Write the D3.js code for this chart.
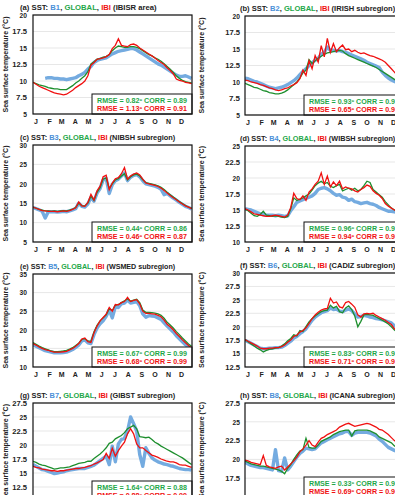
<!DOCTYPE html>
<html>
<head>
<meta charset="utf-8">
<script src="https://cdn.jsdelivr.net/npm/d3@7"></script>
<style>
  body { margin: 0; background: #fff; }
  svg { display: block; overflow: hidden; }
  text { font-family: "Liberation Sans", Arial, sans-serif; font-weight: bold; }
</style>
</head>
<body>
<div id="chart"></div>
<script>
// weekly samples, day of year 0..364
const sampleDays = d3.range(0, 365, 7);
const monthLabels = ["J", "F", "M", "A", "M", "J", "J", "A", "S", "O", "N", "D"];
const monthStarts = [0, 31, 59, 90, 120, 151, 181, 212, 243, 273, 304, 334];

// (a) IBISR area
const obsA = [null, null, null, null, 10.4, 10.5, 10.5, 10.4, 10.4, 10.3, 10.3, 10.2, 10.3, 10.4, 10.5, 10.8, 11.0, 11.3, 11.8, 12.2, 12.8, 13.1, 13.3, 13.4, 13.5, 13.8, 14.1, 14.3, 14.5, 14.6, 14.7, 14.8, 14.9, 14.9, 14.7, 14.4, 14.1, 13.8, 13.5, 13.2, 12.9, 12.6, 12.4, 12.1, 11.8, 11.5, 11.2, 10.9, 10.7, 10.7, 10.8, 10.6, 10.4];
const globA = [9.8, 9.6, 9.4, 9.3, 9.2, 9.0, 8.9, 8.8, 8.8, 8.7, 8.7, 8.7, 9.0, 9.3, 9.7, 10.0, 10.4, 10.8, 11.4, 12.6, 12.9, 13.3, 13.4, 13.6, 13.7, 14.0, 14.6, 15.0, 15.3, 15.2, 15.1, 15.1, 15.2, 15.2, 15.1, 14.9, 14.6, 14.3, 14.0, 13.8, 13.5, 13.3, 13.0, 12.6, 12.2, 11.8, 11.3, 10.8, 10.4, 10.1, 9.9, 9.8, 9.7];
const ibiA = [9.8, 9.5, 9.2, 9.0, 8.8, 8.6, 8.4, 8.2, 8.1, 8.0, 7.9, 8.0, 8.3, 8.6, 9.0, 9.3, 9.6, 10.0, 10.8, 12.4, 12.8, 13.3, 13.4, 13.5, 13.7, 14.0, 14.9, 15.4, 16.4, 15.4, 15.3, 15.2, 15.5, 15.6, 15.4, 15.0, 14.7, 14.4, 14.1, 13.8, 13.5, 13.1, 12.8, 12.5, 12.0, 11.6, 11.1, 10.3, 10.1, 10.0, 9.8, 9.7, 9.6];

// (b) IRISH subregion
const obsB = [10.6, 10.5, 10.3, 10.1, 10.0, 9.8, 9.6, 9.4, 9.2, 9.1, 9.0, 9.1, 9.2, 9.4, 9.6, 9.9, 10.2, 10.6, 11.1, 11.6, 12.0, 12.5, 12.9, 13.3, 13.6, 14.2, 14.5, 15.3, 14.8, 14.8, 14.7, 14.8, 14.6, 14.5, 14.3, 14.1, 13.9, 13.7, 13.5, 13.3, 13.0, 12.8, 12.6, 12.4, 12.2, 11.5, 11.0, 10.6, 10.3, 10.1, 9.9, 9.8, 9.6];
const globB = [9.8, 9.6, 9.4, 9.2, 9.1, 8.9, 8.7, 8.6, 8.4, 8.3, 8.2, 8.2, 8.3, 8.5, 8.8, 9.2, 9.6, 10.0, 10.6, 11.4, 11.8, 13.4, 12.8, 13.2, 13.6, 13.9, 14.2, 14.4, 14.5, 14.6, 14.7, 14.8, 14.7, 14.3, 14.0, 13.8, 13.6, 13.4, 13.2, 13.0, 12.8, 12.6, 12.4, 12.2, 11.9, 11.6, 11.3, 11.0, 10.7, 10.4, 10.1, 9.9, 9.7];
const ibiB = [10.3, 10.2, 10.0, 9.9, 9.8, 9.6, 9.5, 9.3, 9.1, 9.0, 8.8, 8.7, 8.8, 9.0, 9.1, 9.4, 9.6, 9.9, 10.5, 11.8, 11.0, 13.2, 12.0, 14.0, 13.0, 15.5, 13.8, 16.6, 14.5, 15.8, 14.6, 15.2, 15.6, 14.9, 15.0, 14.6, 14.8, 14.5, 14.3, 14.4, 14.2, 14.0, 13.9, 13.7, 13.5, 13.3, 13.0, 12.5, 12.0, 11.5, 11.0, 10.6, 10.3];

// (c) NIBSH subregion
const obsC = [13.9, 13.6, 13.3, 12.9, 11.2, 12.8, 12.8, 12.8, 12.7, 12.8, 12.9, 12.8, 13.0, 13.3, 13.6, 15.0, 14.2, 14.0, 14.8, 16.5, 15.5, 17.6, 18.8, 21.0, 21.4, 17.5, 19.8, 20.8, 21.2, 22.0, 22.8, 20.8, 21.7, 22.2, 22.4, 21.8, 20.8, 20.0, 19.8, 19.6, 19.4, 19.1, 18.6, 17.2, 17.5, 16.9, 16.3, 15.8, 15.2, 14.7, 14.2, 13.9, 13.5];
const globC = [14.0, 13.7, 13.4, 13.2, 13.0, 13.0, 12.9, 13.0, 12.9, 13.0, 13.1, 13.0, 13.2, 13.5, 13.9, 15.0, 14.4, 14.3, 15.0, 16.8, 15.7, 17.8, 19.0, 21.2, 21.5, 18.8, 20.0, 21.0, 21.3, 22.0, 22.6, 21.0, 21.8, 22.3, 22.5, 22.0, 21.0, 20.3, 20.1, 19.9, 19.7, 19.5, 19.1, 18.5, 17.8, 17.2, 16.6, 16.0, 15.4, 14.9, 14.4, 14.0, 13.7];
const ibiC = [14.0, 13.7, 13.4, 13.1, 13.0, 12.9, 12.9, 12.9, 12.8, 12.9, 13.0, 12.9, 13.1, 13.4, 13.8, 15.3, 14.3, 14.2, 15.2, 17.3, 15.8, 18.2, 19.4, 21.8, 22.2, 18.5, 20.2, 21.3, 21.6, 22.6, 24.2, 21.2, 22.0, 22.5, 22.8, 22.3, 21.2, 20.2, 20.0, 19.8, 19.6, 19.3, 18.9, 18.3, 17.6, 17.0, 16.4, 15.9, 15.3, 14.8, 14.3, 14.0, 13.6];

// (d) WIBSH subregion
const obsD = [15.2, 15.1, 15.0, 14.8, 14.6, 14.4, 14.3, 14.2, 14.2, 14.2, 14.1, 14.2, 14.1, 14.0, 14.1, 14.9, 15.5, 16.2, 16.4, 16.6, 16.8, 17.0, 17.2, 17.6, 18.2, 18.4, 18.5, 18.3, 18.0, 17.6, 17.3, 17.4, 17.0, 16.9, 16.5, 16.7, 16.3, 16.2, 16.0, 16.1, 16.2, 16.0, 15.9, 15.7, 15.4, 15.2, 15.0, 14.8, 14.8, 14.7, 14.6, 14.5, 14.4];
const globD = [15.1, 14.9, 14.5, 14.1, 14.0, 14.3, 14.8, 14.2, 14.1, 14.0, 14.1, 14.0, 13.9, 13.8, 14.0, 15.2, 16.9, 16.5, 16.7, 16.9, 17.2, 17.5, 18.1, 18.8, 19.2, 19.5, 19.1, 19.3, 18.7, 18.5, 18.8, 19.0, 18.0, 18.2, 18.4, 18.1, 18.4, 18.0, 18.2, 18.8, 19.5, 19.3, 18.2, 17.8, 17.4, 17.0, 16.3, 15.8, 15.3, 15.0, 14.8, 14.6, 14.4];
const ibiD = [15.2, 15.0, 14.7, 14.4, 14.3, 14.2, 14.1, 14.0, 14.0, 14.1, 14.2, 14.1, 14.0, 13.9, 14.2, 15.4, 17.6, 16.8, 16.6, 17.2, 16.5, 17.8, 18.3, 19.0, 19.5, 20.8, 19.0, 20.3, 18.6, 19.4, 18.8, 19.5, 18.3, 18.6, 18.4, 18.3, 18.0, 17.8, 18.2, 18.5, 18.9, 18.7, 18.0, 17.6, 17.3, 16.8, 16.0, 15.6, 15.3, 15.0, 14.8, 14.6, 14.4];

// (e) WSMED subregion
const obsE = [15.9, 15.6, 15.2, 14.8, 14.4, 14.2, 14.0, 13.8, 13.8, 13.8, 13.9, 14.0, 14.3, 14.7, 15.3, 15.9, 17.0, 17.3, 16.5, 16.3, 18.7, 20.5, 21.6, 22.4, 23.6, 25.4, 23.2, 26.2, 26.0, 27.0, 27.2, 28.0, 27.2, 27.4, 27.6, 26.5, 24.3, 23.4, 23.8, 23.7, 23.6, 23.2, 22.8, 21.9, 21.0, 20.2, 19.4, 18.4, 17.6, 16.8, 16.0, 15.4, 14.9];
const globE = [16.6, 16.1, 15.6, 15.2, 14.9, 14.6, 14.3, 14.1, 14.1, 14.2, 14.3, 14.5, 14.8, 15.2, 15.8, 16.4, 17.4, 17.6, 17.0, 16.9, 19.4, 21.2, 22.4, 23.2, 24.0, 25.6, 25.2, 26.6, 26.8, 27.3, 27.8, 28.3, 27.7, 28.0, 28.2, 27.3, 25.3, 24.7, 24.7, 24.6, 24.5, 24.3, 23.9, 23.1, 22.0, 21.3, 20.5, 19.5, 18.7, 17.8, 17.0, 16.2, 15.6];
const ibiE = [16.3, 15.9, 15.4, 15.0, 14.7, 14.5, 14.2, 14.0, 14.0, 14.0, 14.1, 14.2, 14.6, 15.0, 15.6, 16.3, 17.5, 17.8, 16.8, 16.6, 19.2, 21.0, 22.4, 23.3, 24.2, 26.0, 25.0, 26.8, 26.7, 27.3, 27.6, 28.7, 27.6, 27.9, 28.1, 27.0, 25.0, 24.4, 24.4, 24.3, 24.2, 23.9, 23.5, 22.6, 21.5, 20.8, 20.0, 19.0, 18.2, 17.3, 16.5, 15.8, 15.2];

// (f) CADIZ subregion
const obsF = [17.5, 17.2, 16.9, 16.6, 16.3, 16.0, 15.9, 15.9, 16.0, 16.0, 16.1, 16.1, 16.2, 16.5, 16.9, 17.3, 17.9, 18.2, 18.7, 19.1, 19.6, 20.4, 21.2, 21.8, 22.2, 22.6, 22.8, 23.0, 23.5, 23.2, 23.3, 22.9, 22.8, 23.1, 23.3, 23.0, 22.4, 21.8, 21.9, 22.1, 22.0, 21.8, 21.7, 21.5, 21.4, 21.3, 21.1, 20.9, 20.7, 20.2, 19.8, 19.4, 19.0];
const globF = [17.6, 17.2, 16.8, 16.4, 16.0, 15.7, 15.3, 15.6, 15.8, 15.9, 16.0, 16.1, 16.4, 16.8, 17.4, 17.8, 18.5, 18.3, 19.3, 19.1, 20.0, 20.9, 21.5, 22.0, 22.4, 22.8, 23.0, 23.1, 24.0, 23.5, 23.8, 22.8, 22.6, 23.5, 23.9, 23.2, 22.0, 20.0, 21.0, 22.2, 22.3, 22.2, 22.1, 21.8, 21.5, 21.2, 20.9, 20.5, 20.0, 19.4, 19.0, 18.6, 18.2];
const ibiF = [17.6, 17.3, 17.0, 16.7, 16.4, 16.0, 15.9, 15.9, 16.0, 16.0, 16.1, 16.1, 16.3, 16.6, 17.1, 17.5, 18.2, 18.4, 19.0, 19.3, 19.8, 20.6, 21.5, 22.2, 22.7, 23.1, 23.3, 23.4, 25.3, 24.4, 24.6, 23.7, 23.5, 24.5, 24.7, 24.2, 23.6, 22.2, 21.8, 22.4, 22.5, 22.4, 22.5, 22.1, 21.8, 21.5, 21.2, 20.8, 20.4, 19.6, 19.2, 18.8, 18.4];

// (g) GIBST subregion
const obsG = [16.5, 16.2, 15.9, 15.6, 15.5, 15.3, 15.1, 14.9, 15.0, 15.1, 15.2, 15.4, 15.5, 15.6, 15.7, 15.8, 15.8, 15.8, 16.0, 16.2, 16.4, 16.8, 17.2, 17.6, 18.0, 16.5, 19.8, 17.0, 20.2, 21.0, 21.2, 22.5, 25.0, 23.8, 22.5, 18.3, 16.2, 19.5, 18.5, 17.7, 17.3, 17.0, 16.8, 16.6, 16.5, 16.3, 16.2, 16.0, 15.8, 15.7, 15.6, 15.6, 15.5];
const globG = [17.1, 16.9, 16.6, 16.4, 16.3, 16.1, 15.9, 15.7, 15.8, 15.9, 15.9, 16.0, 16.1, 16.3, 16.5, 16.7, 16.8, 16.9, 17.1, 17.1, 17.6, 18.0, 18.4, 18.9, 19.5, 20.3, 20.5, 21.1, 21.4, 21.7, 22.2, 22.9, 23.2, 23.5, 22.9, 21.5, 21.4, 21.3, 21.4, 21.0, 20.5, 20.2, 19.8, 19.5, 19.2, 18.9, 18.6, 18.3, 18.0, 17.7, 17.3, 16.9, 16.5];
const ibiG = [16.2, 16.0, 15.9, 15.7, 15.6, 15.5, 15.4, 15.4, 15.3, 15.4, 15.4, 15.5, 15.6, 15.7, 15.8, 15.8, 15.9, 16.0, 16.2, 16.3, 16.6, 16.8, 17.1, 17.4, 18.5, 17.6, 19.4, 18.0, 19.0, 19.8, 20.5, 22.0, 22.9, 22.0, 20.2, 19.5, 19.5, 19.0, 18.6, 18.2, 18.0, 17.8, 17.5, 17.3, 17.1, 17.0, 17.0, 16.8, 16.5, 16.4, 16.4, 16.2, 16.0];

// (h) ICANA subregion
const obsH = [19.6, 19.4, 19.2, 19.1, 19.0, 18.9, 18.9, 18.8, 18.7, 18.6, 21.3, 18.5, 18.4, 20.2, 18.6, 19.1, 19.7, 20.3, 20.8, 21.1, 21.5, 21.4, 21.3, 21.4, 21.8, 22.2, 22.4, 22.6, 22.8, 23.0, 23.2, 23.4, 23.5, 23.7, 23.7, 23.2, 23.5, 23.6, 23.6, 23.6, 23.6, 23.5, 23.3, 23.1, 22.7, 22.4, 22.0, 21.6, 21.4, 21.2, 21.0, 20.8, 20.6];
const globH = [19.8, 19.6, 19.4, 19.3, 19.2, 19.1, 19.1, 19.0, 18.9, 18.8, 18.7, 18.6, 18.4, 18.1, 18.8, 19.3, 20.0, 20.6, 21.1, 21.3, 22.8, 21.6, 21.5, 21.5, 21.9, 22.4, 22.6, 22.8, 23.0, 23.3, 23.5, 23.7, 23.8, 23.9, 23.9, 23.1, 23.8, 23.9, 23.9, 23.9, 23.9, 23.8, 23.6, 23.4, 23.0, 22.8, 22.6, 22.4, 22.2, 21.8, 21.6, 21.3, 21.0];
const ibiH = [19.9, 19.8, 19.6, 19.5, 19.4, 19.3, 20.5, 19.2, 19.0, 18.9, 18.8, 19.0, 19.1, 18.6, 19.0, 19.4, 19.8, 20.3, 21.0, 21.4, 21.9, 22.5, 21.9, 21.7, 22.3, 22.8, 23.0, 23.3, 23.5, 23.7, 23.9, 24.3, 24.5, 24.7, 24.8, 24.6, 24.4, 24.5, 24.6, 24.7, 24.8, 24.7, 24.5, 24.3, 24.0, 23.9, 23.6, 23.3, 22.9, 22.5, 22.2, 21.9, 21.6];

const panelLetters = ["a", "b", "c", "d", "e", "f", "g", "h"];
const buoyNames = ["B1", "B2", "B3", "B4", "B5", "B6", "B7", "B8"];
const regionNames = ["IBISR area", "IRISH subregion", "NIBSH subregion", "WIBSH subregion",
    "WSMED subregion", "CADIZ subregion", "GIBST subregion", "ICANA subregion"];
const yDomains = [[5, 20], [5, 20], [5, 30], [10, 25], [10, 35], [12.5, 30], [10, 27.5], [15, 27.5]];
const yTickSteps = [2.5, 2.5, 5, 2.5, 5, 2.5, 2.5, 2.5];
const globalRmse = ["0.82", "0.93", "0.44", "0.96", "0.67", "0.83", "1.64", "0.33"];
const globalCorr = ["0.89", "0.97", "0.86", "0.95", "0.99", "0.94", "0.88", "0.96"];
const ibiRmse = ["1.13", "0.65", "0.46", "0.94", "0.68", "0.71", "0.88", "0.69"];
const ibiCorr = ["0.91", "0.96", "0.87", "0.95", "0.99", "0.95", "0.90", "0.96"];
const obsSeries = [obsA, obsB, obsC, obsD, obsE, obsF, obsG, obsH];
const globalSeries = [globA, globB, globC, globD, globE, globF, globG, globH];
const ibiSeries = [ibiA, ibiB, ibiC, ibiD, ibiE, ibiF, ibiG, ibiH];

const colors = { obs: "#74abe0", global: "#1e8f2e", ibi: "#f01010", obsText: "#4a8fd8", globalText: "#1fa84a", ibiText: "#f01010" };

// panel frames [left, top, width, height]
const frames = [
    [33, 15, 159, 99], [245, 16, 159, 99],
    [33, 145, 159, 97], [245, 146, 159, 96],
    [33, 274, 159, 93], [245, 273, 159, 94],
    [33, 403, 159, 98], [245, 403, 159, 94]
];

const svg = d3.select("#chart").append("svg")
    .attr("width", 395)
    .attr("height", 495);

frames.forEach(function (f, i) {
    let left = f[0], top = f[1], w = f[2], h = f[3];
    let col = i % 2;

    let g = svg.append("g")
        .attr("transform", "translate(" + left + "," + top + ")");

    let x = d3.scaleLinear().domain([0, 365]).range([0, w]);
    let y = d3.scaleLinear().domain(yDomains[i]).range([h, 0]);

    let ticks = d3.range(yDomains[i][0], yDomains[i][1] + 0.01, yTickSteps[i]);

    // gridlines
    g.append("g")
        .selectAll("line")
        .data(ticks)
        .enter().append("line")
        .attr("x1", 0).attr("x2", w)
        .attr("y1", d => y(d)).attr("y2", d => y(d))
        .attr("stroke", "#dcdcdc")
        .attr("stroke-width", 0.7);

    // y axis
    let fmt = d => (d % 1 ? d.toFixed(1) : String(d));
    let yAxis = d3.axisLeft(y)
        .tickValues(ticks)
        .tickSize(0)
        .tickPadding(col === 0 ? 6 : 5)
        .tickFormat(fmt);
    let ya = g.append("g").call(yAxis);
    ya.select(".domain").remove();
    ya.selectAll("text")
        .style("font-size", "7.2px")
        .style("font-family", "'Liberation Sans', Arial, sans-serif")
        .attr("fill", "#222")
        .attr("textLength", d => fmt(d).length * 3.7)
        .attr("lengthAdjust", "spacingAndGlyphs");

    // month labels
    g.append("g")
        .selectAll("text")
        .data(monthLabels)
        .enter().append("text")
        .attr("x", (d, k) => x(monthStarts[k] + 7))
        .attr("y", h + 10)
        .attr("text-anchor", "middle")
        .style("font-size", "7px")
        .attr("fill", "#222")
        .text(d => d);

    // lines
    let line = d3.line()
        .defined(d => d.v != null)
        .x(d => x(d.day))
        .y(d => y(d.v));

    let toPts = arr => arr.map((v, k) => ({ day: sampleDays[k], v: v }));

    let clipId = "clip" + i;
    g.append("clipPath").attr("id", clipId)
        .append("rect").attr("width", w).attr("height", h);

    let lines = g.append("g").attr("clip-path", "url(#" + clipId + ")");

    lines.append("path")
        .datum(toPts(obsSeries[i]))
        .attr("fill", "none")
        .attr("stroke", colors.obs)
        .attr("stroke-width", 3.4)
        .attr("stroke-linejoin", "round")
        .attr("d", line);

    lines.append("path")
        .datum(toPts(globalSeries[i]))
        .attr("fill", "none")
        .attr("stroke", colors.global)
        .attr("stroke-width", 1.3)
        .attr("d", line);

    lines.append("path")
        .datum(toPts(ibiSeries[i]))
        .attr("fill", "none")
        .attr("stroke", colors.ibi)
        .attr("stroke-width", 1.3)
        .attr("d", line);

    // stats box
    let bx = 59, bh = 20;
    g.append("rect")
        .attr("x", bx).attr("y", h - bh)
        .attr("width", w - bx).attr("height", bh)
        .attr("fill", "#fff")
        .attr("stroke", "#111")
        .attr("stroke-width", 1);

    let statLines = [
        ["RMSE = " + globalRmse[i] + "º  CORR = " + globalCorr[i], colors.globalText, 8.5],
        ["RMSE = " + ibiRmse[i] + "º  CORR = " + ibiCorr[i], colors.ibiText, 16.5]
    ];
    statLines.forEach(function (s) {
        g.append("text")
            .attr("x", bx + 5).attr("y", h - bh + s[2])
            .style("font-size", "7px")
            .attr("fill", s[1])
            .attr("textLength", 90)
            .attr("lengthAdjust", "spacingAndGlyphs")
            .text(s[0]);
    });

    // frame
    g.append("rect")
        .attr("width", w).attr("height", h)
        .attr("fill", "none")
        .attr("stroke", "#111")
        .attr("stroke-width", 1.2);

    // title, squeezed horizontally to the narrow face of the original
    let titleText = "(" + panelLetters[i] + ") SST: " + buoyNames[i] + ", GLOBAL, IBI (" + regionNames[i] + ")";
    let tg = g.append("g");
    let t = tg.append("text")
        .style("font-size", "7.8px")
        .attr("fill", "#222");
    t.append("tspan").text("(" + panelLetters[i] + ") SST: ");
    t.append("tspan").attr("fill", colors.obsText).text(buoyNames[i]);
    t.append("tspan").text(", ");
    t.append("tspan").attr("fill", colors.globalText).text("GLOBAL");
    t.append("tspan").text(", ");
    t.append("tspan").attr("fill", colors.ibiText).text("IBI");
    t.append("tspan").text(" (" + regionNames[i] + ")");
    let natural = t.node().getComputedTextLength();
    let sx = (titleText.length * 3.7) / natural;
    tg.attr("transform", "translate(" + (col === 0 ? -13 : -5) + ",-5) scale(" + sx + ",1)");

    // y axis title, squeezed the same way
    let yg = g.append("g");
    let yt = yg.append("text")
        .attr("text-anchor", "middle")
        .style("font-size", "7.6px")
        .attr("fill", "#222")
        .text("Sea surface temperature (°C)");
    let ysx = 96 / yt.node().getComputedTextLength();
    yg.attr("transform", "translate(" + (col === 0 ? -25 : -41) + "," + (h / 2) + ") rotate(-90) scale(" + ysx + ",1)");
});
</script>
</body>
</html>
